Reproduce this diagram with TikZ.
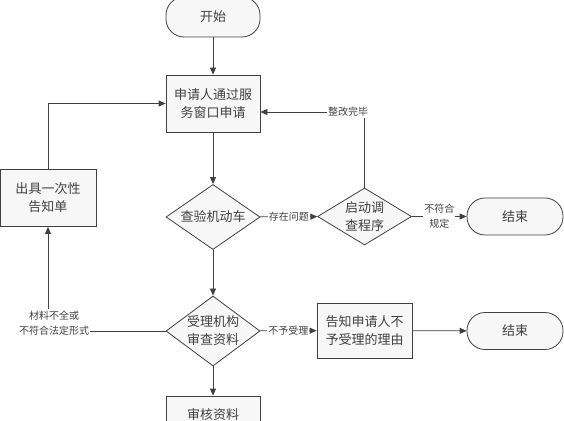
\documentclass[tikz,border=0pt]{standalone}
\usepackage{fontspec}
\setmainfont{Noto Sans CJK SC}
\usetikzlibrary{arrows.meta,shapes.geometric}

\begin{document}
\begin{tikzpicture}[x=1pt,y=-1pt,color=black!75,line width=0.8pt,
  box/.style={draw,fill=black!3,minimum width=94pt,minimum height=57pt,align=center,font=\fontsize{13}{18}\selectfont},
  dia/.style={draw,diamond,fill=black!3,minimum width=94pt,minimum height=56pt,inner sep=-3pt,align=center,font=\fontsize{13}{18}\selectfont},
  term/.style={draw,rounded corners=18pt,fill=black!3,minimum width=96pt,minimum height=37pt,font=\fontsize{13}{18}\selectfont},
  lbl/.style={fill=white,inner sep=1pt,align=center,font=\fontsize{10}{15}\selectfont},
  arr/.style={-{Triangle[length=7pt,width=6pt]}}]
\useasboundingbox (0,0) rectangle (564,420);
\clip (0,0) rectangle (564,420);

\node[term,minimum width=94pt,minimum height=40pt] (start) at (213,17) {开始};
\node[box] (apply) at (213,103.5) {申请人通过服\\务窗口申请};
\node[box,minimum width=96pt] (notice) at (48,198) {出具一次性\\告知单};
\node[dia] (check) at (213,217) {查验机动车};
\node[dia] (probe) at (364.5,216.5) {启动调\\查程序};
\node[term] (end1) at (515,216.5) {结束};
\node[dia] (accept) at (213,331) {受理机构\\审查资料};
\node[box,minimum width=95pt,minimum height=55pt] (refuse) at (364.5,330.5) {告知申请人不\\予受理的理由};
\node[term] (end2) at (515,331) {结束};
\node[box,minimum height=38pt] (review) at (213,415) {审核资料};

\draw[arr] (start) edge (apply);
\draw[arr] (apply) edge (check);
\draw[arr] (check) edge node[lbl] {存在问题} (probe);
\draw[arr] (probe) edge node[lbl] {不符合\\规定} (end1);
\draw[arr] (check) edge (accept);
\draw[arr] (accept) edge node[lbl] {不予受理} (refuse);
\draw[arr] (refuse) edge (end2);
\draw[arr] (accept) edge (review);
\draw[arr] (notice.north) |- (apply.west);

\coordinate (fix) at (364.5,112);
\draw[arr] (probe.north) -- (fix) -- (apply.east |- fix);
\node[lbl] (fixed) at (348,112) {整改完毕};

\node[lbl] (lack) at (54,323) {材料不全或\\不符合法定形式};
\draw (accept.west) -- (accept.west -| lack.east);
\draw[arr] (lack.north -| notice.south) -- (notice.south);
\end{tikzpicture}
\end{document}
